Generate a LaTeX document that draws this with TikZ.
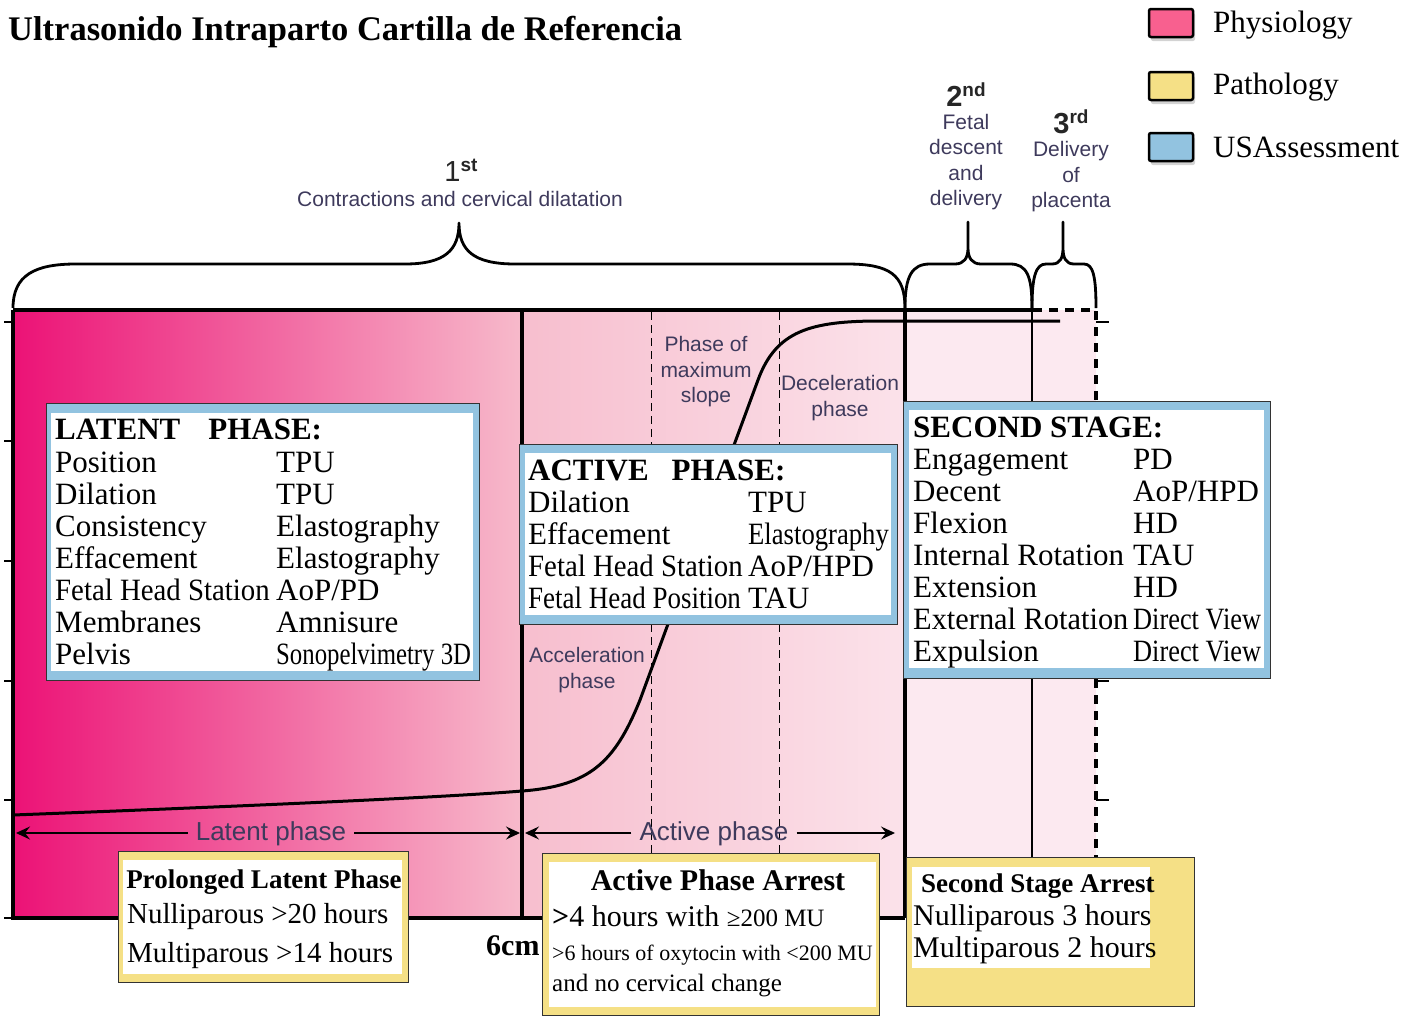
\documentclass[tikz,border=0pt]{standalone}
\usepackage{fontspec}
\setmainfont{Liberation Serif}
\setsansfont{Liberation Sans}
\usetikzlibrary{arrows.meta,shadows}
\definecolor{physio}{RGB}{248,96,143}
\definecolor{patho}{RGB}{245,224,134}
\definecolor{usblue}{RGB}{146,195,224}
\definecolor{latLc}{RGB}{236,18,118}
\definecolor{latMc}{RGB}{242,128,164}
\definecolor{latRc}{RGB}{247,186,203}
\definecolor{actLc}{RGB}{247,190,206}
\definecolor{actMc}{RGB}{248,198,212}
\definecolor{actRc}{RGB}{251,226,234}
\definecolor{secfill}{RGB}{252,233,240}
\definecolor{labelc}{RGB}{62,58,92}
\begin{document}
\begin{tikzpicture}[x=1pt,y=-1pt,
  thickln/.style={line width=3.5pt},
  thinln/.style={line width=1.6pt},
  dashln/.style={line width=1pt, dash pattern=on 8pt off 5pt},
  bigdash/.style={line width=3.5pt, dash pattern=on 9pt off 7pt},
  brace/.style={line width=2.8pt, line join=round},
  tickln/.style={line width=1.2pt},
  lbl/.style={font=\sffamily\fontsize{21}{25.5}\selectfont, text=labelc, align=center, inner sep=0pt},
  phaselbl/.style={font=\sffamily\fontsize{26}{30}\selectfont, text=labelc, inner sep=0pt},
  stagenum/.style={font=\sffamily\fontsize{29}{30}\selectfont, text=black!85, inner sep=0pt, anchor=base},
  rowtxt/.style={font=\fontsize{31}{32}\selectfont, anchor=base west, inner sep=0pt},
  hdrtxt/.style={font=\bfseries\fontsize{31}{32}\selectfont, anchor=base west, inner sep=0pt},
  legbox/.style={draw=black, line width=2.5pt, rounded corners=2pt, minimum width=44pt, minimum height=28pt, inner sep=0pt, drop shadow={opacity=0.35, shadow xshift=2pt, shadow yshift=-4pt}},
  legtxt/.style={font=\fontsize{31}{32}\selectfont, anchor=base west, inner sep=0pt},
  usbox/.style={draw=black!80, line width=0.8pt, fill=usblue, inner sep=0pt, anchor=north west},
  whitebox/.style={fill=white, inner sep=0pt, anchor=north west},
  pathbox/.style={draw=black!80, line width=0.8pt, fill=patho, inner sep=0pt, anchor=north west},
  dimarrow/.style={line width=1.3pt, -{Stealth[length=14pt,width=13pt,inset=5pt]}},
]
\useasboundingbox (0,0) rectangle (1409,1017);

% title and legend
\node[anchor=base west, inner sep=0pt, font=\bfseries\fontsize{34.5}{36}\selectfont] (title) at (8,40) {Ultrasonido Intraparto Cartilla de Referencia};
\node[legbox, fill=physio] (legP) at (1171,23) {};
\node[legbox, fill=patho] (legPa) at (1171,86) {};
\node[legbox, fill=usblue] (legU) at (1171,147) {};
\node[legtxt] (legPt) at (1213,32) {Physiology};
\node[legtxt] (legPat) at (1213,94) {Pathology};
\node[legtxt] (legUt) at (1213,157) {USAssessment};

% background fills
\shade[left color=latLc, middle color=latMc, right color=latRc] (13,310) rectangle (522,918);
\shade[left color=actLc, middle color=actMc, right color=actRc] (522,310) rectangle (905,918);
\fill[secfill] (905,310) rectangle (1096,918);

% dashed phase separators
\draw[dashln] (651,312) -- (651,918);
\draw[dashln] (779,312) -- (779,918);

% ticks
\foreach \ty in {322,441,561,681,800,918} {
  \draw[tickln] (4,\ty) -- (13,\ty);
}
\foreach \ty in {322,441,561,681,800} {
  \draw[tickln] (1096,\ty) -- (1109,\ty);
}

% curve
\draw[line width=3pt] (13,815) .. controls (250,806) and (450,797) .. (522,791)
  .. controls (590,786) and (615,762) .. (640,700) -- (758,380)
  .. controls (776,331) and (810,321) .. (880,321) -- (1060,321);

% frame
\draw[thickln] (13,310) -- (1033,310);
\draw[bigdash] (1033,310) -- (1096,310) -- (1096,858);
\draw[thickln] (13,310) -- (13,918) -- (905,918);
\draw[thickln] (522,310) -- (522,918);
\draw[thickln] (905,310) -- (905,918);
\draw[thinln] (1032,310) -- (1032,860);

% braces
\draw[brace] (13,308) .. controls (13,275) and (35,264) .. (76,264) -- (405,264)
  .. controls (445,264) and (459,250) .. (459,223)
  .. controls (459,250) and (473,264) .. (515,264) -- (847,264)
  .. controls (890,264) and (905,275) .. (905,308);
\draw[brace] (905,308) .. controls (905,276) and (912,264) .. (930,264) -- (955,264)
  .. controls (964,264) and (968,258) .. (968,248) -- (968,222) -- (968,248)
  .. controls (968,258) and (972,264) .. (981,264) -- (1010,264)
  .. controls (1027,264) and (1032,276) .. (1032,308);
\draw[brace] (1032,308) .. controls (1032,276) and (1036,264) .. (1046,264) -- (1052,264)
  .. controls (1060,264) and (1063,258) .. (1063,248) -- (1063,222) -- (1063,248)
  .. controls (1063,258) and (1066,264) .. (1074,264) -- (1084,264)
  .. controls (1093,264) and (1096,276) .. (1096,308);

% stage labels
\node[stagenum] (s1) at (461,181) {1\raisebox{10pt}{\bfseries\fontsize{19}{19}\selectfont st}};
\node[lbl, anchor=base] (s1t) at (460,206) {Contractions and cervical dilatation};
\node[stagenum, font=\sffamily\bfseries\fontsize{29}{30}\selectfont] (s2) at (966,106) {2\raisebox{10pt}{\fontsize{19}{19}\selectfont nd}};
\node[lbl] (s2t) at (966,162) {Fetal\\descent\\and\\delivery};
\node[stagenum, font=\sffamily\bfseries\fontsize{29}{30}\selectfont] (s3) at (1071,133) {3\raisebox{10pt}{\fontsize{19}{19}\selectfont rd}};
\node[lbl] (s3t) at (1071,177) {Delivery\\of\\placenta};

% phase labels inside chart
\node[lbl] (maxslope) at (706,372) {Phase of\\maximum\\slope};
\node[lbl] (decel) at (840,398) {Deceleration\\phase};
\node[lbl] (accel) at (587,670) {Acceleration\\phase};

% duration arrows
\node[phaselbl] (latlbl) at (271,834) {Latent phase};
\node[phaselbl] (actlbl) at (714,834) {Active phase};
\coordinate (lpL) at (16,833);
\coordinate (lpR) at (520,833);
\coordinate (apL) at (525,833);
\coordinate (apR) at (895,833);
\draw[dimarrow] ([xshift=-8pt]latlbl.west |- lpL) -- (lpL);
\draw[dimarrow] ([xshift=8pt]latlbl.east |- lpR) -- (lpR);
\draw[dimarrow] ([xshift=-8pt]actlbl.west |- apL) -- (apL);
\draw[dimarrow] ([xshift=8pt]actlbl.east |- apR) -- (apR);

% latent phase box
\node[usbox, minimum width=433pt, minimum height=277pt] (latbox) at (46,403) {};
\node[whitebox, minimum width=422pt, minimum height=258pt] (latin) at (51,413) {};
\node[hdrtxt] (lath) at (55,439) {LATENT\hspace{28pt}PHASE:};
\node[rowtxt] (la1) at (55,472) {Position};
\node[rowtxt] (lb1) at (276,472) {TPU};
\node[rowtxt] (la2) at (55,504) {Dilation};
\node[rowtxt] (lb2) at (276,504) {TPU};
\node[rowtxt] (la3) at (55,536) {Consistency};
\node[rowtxt] (lb3) at (276,536) {Elastography};
\node[rowtxt] (la4) at (55,568) {Effacement};
\node[rowtxt] (lb4) at (276,568) {Elastography};
\node[rowtxt] (la5) at (55,600) {\scalebox{0.93}[1]{Fetal Head Station}};
\node[rowtxt] (lb5) at (276,600) {AoP/PD};
\node[rowtxt] (la6) at (55,632) {Membranes};
\node[rowtxt] (lb6) at (276,632) {Amnisure};
\node[rowtxt] (la7) at (55,664) {Pelvis};
\node[rowtxt] (lb7) at (276,664) {\scalebox{0.8}[1]{Sonopelvimetry 3D}};

% active phase box
\node[usbox, minimum width=378pt, minimum height=180pt] (actbox) at (519,444) {};
\node[whitebox, minimum width=366pt, minimum height=162pt] (actin) at (525,453) {};
\node[hdrtxt] (acth) at (528,480) {ACTIVE\hspace{23pt}PHASE:};
\node[rowtxt] (aa1) at (528,512) {Dilation};
\node[rowtxt] (ab1) at (748,512) {TPU};
\node[rowtxt] (aa2) at (528,544) {Effacement};
\node[rowtxt] (ab2) at (748,544) {\scalebox{0.86}[1]{Elastography}};
\node[rowtxt] (aa3) at (528,576) {\scalebox{0.93}[1]{Fetal Head Station}};
\node[rowtxt] (ab3) at (748,576) {AoP/HPD};
\node[rowtxt] (aa4) at (528,608) {\scalebox{0.87}[1]{Fetal Head Position}};
\node[rowtxt] (ab4) at (748,608) {TAU};

% second stage box
\node[usbox, minimum width=367pt, minimum height=277pt] (secbox) at (903,401) {};
\node[whitebox, minimum width=355pt, minimum height=258pt] (secin) at (909,410) {};
\node[hdrtxt] (sech) at (913,437) {SECOND STAGE:};
\node[rowtxt] (sa1) at (913,469) {Engagement};
\node[rowtxt] (sb1) at (1133,469) {PD};
\node[rowtxt] (sa2) at (913,501) {Decent};
\node[rowtxt] (sb2) at (1133,501) {AoP/HPD};
\node[rowtxt] (sa3) at (913,533) {Flexion};
\node[rowtxt] (sb3) at (1133,533) {HD};
\node[rowtxt] (sa4) at (913,565) {Internal Rotation};
\node[rowtxt] (sb4) at (1133,565) {TAU};
\node[rowtxt] (sa5) at (913,597) {Extension};
\node[rowtxt] (sb5) at (1133,597) {HD};
\node[rowtxt] (sa6) at (913,629) {\scalebox{0.98}[1]{External Rotation}};
\node[rowtxt] (sb6) at (1133,629) {\scalebox{0.85}[1]{Direct View}};
\node[rowtxt] (sa7) at (913,661) {Expulsion};
\node[rowtxt] (sb7) at (1133,661) {\scalebox{0.85}[1]{Direct View}};

% pathology boxes
\node[pathbox, minimum width=290pt, minimum height=131pt] (plbox) at (118,851) {};
\node[whitebox, minimum width=279pt, minimum height=114pt] (plin) at (123,860) {};
\node[anchor=base, inner sep=0pt, font=\bfseries\fontsize{27}{30}\selectfont] (plh) at (264,888) {Prolonged Latent Phase};
\node[anchor=base west, inner sep=0pt, font=\fontsize{29}{30}\selectfont] (pl1) at (127,923) {Nulliparous >20 hours};
\node[anchor=base west, inner sep=0pt, font=\fontsize{29}{30}\selectfont] (pl2) at (127,962) {Multiparous >14 hours};

\node[anchor=base west, inner sep=0pt, font=\bfseries\fontsize{30}{32}\selectfont] (sixcm) at (486,955) {6cm};

\node[pathbox, minimum width=337pt, minimum height=162pt] (aabox) at (542,853) {};
\node[whitebox, minimum width=327pt, minimum height=145pt] (aain) at (549,862) {};
\node[anchor=base, inner sep=0pt, font=\bfseries\fontsize{30}{32}\selectfont] (aah) at (718,890) {Active Phase Arrest};
\node[anchor=base west, inner sep=0pt, font=\fontsize{30}{32}\selectfont] (aa1r) at (552,926) {\textbf{>}4 hours with {\fontsize{25}{26}\selectfont ≥200 MU}};
\node[anchor=base west, inner sep=0pt, font=\fontsize{22}{24}\selectfont] (aa2r) at (552,960) {>6 hours of oxytocin with <200 MU};
\node[anchor=base west, inner sep=0pt, font=\fontsize{25}{26}\selectfont] (aa3r) at (552,991) {and no cervical change};

\node[pathbox, minimum width=288pt, minimum height=149pt] (sabox) at (906,857) {};
\node[whitebox, minimum width=238pt, minimum height=101pt] (sain) at (912,867) {};
\node[anchor=base west, inner sep=0pt, font=\bfseries\fontsize{27}{30}\selectfont] (sah) at (921,892) {Second Stage Arrest};
\node[anchor=base west, inner sep=0pt, font=\fontsize{30}{32}\selectfont] (sa1r) at (913,925) {Nulliparous 3 hours};
\node[anchor=base west, inner sep=0pt, font=\fontsize{30}{32}\selectfont] (sa2r) at (913,957) {Multiparous 2 hours};
\end{tikzpicture}
\end{document}
